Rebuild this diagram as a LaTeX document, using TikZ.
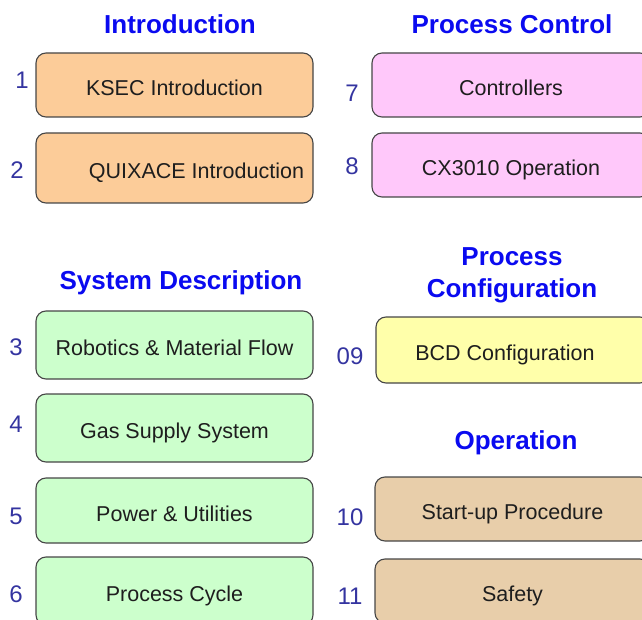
\documentclass[tikz,border=0pt]{standalone}
\usepackage{fontspec}
\setmainfont{Liberation Sans}
\definecolor{headblue}{RGB}{10,10,240}
\definecolor{numblue}{RGB}{52,52,160}
\definecolor{boxline}{RGB}{70,70,70}
\definecolor{boxtext}{RGB}{30,30,30}
\definecolor{introfill}{RGB}{252,204,153}
\definecolor{ctrlfill}{RGB}{255,200,250}
\definecolor{sysfill}{RGB}{204,255,204}
\definecolor{conffill}{RGB}{255,255,170}
\definecolor{operfill}{RGB}{232,206,170}
\tikzset{
    heading/.style={text=headblue, font=\bfseries\fontsize{26}{32}\selectfont, align=center},
    num/.style={text=numblue, font=\fontsize{24}{26}\selectfont},
    topic/.style={draw=boxline, line width=1.1pt, rounded corners=10pt, text=boxtext,
        font=\fontsize{21.5}{24}\selectfont, text height=21pt, text depth=0pt,
        minimum width=277pt, minimum height=64pt}
}
\begin{document}
\begin{tikzpicture}[x=1pt, y=-1pt]
    \useasboundingbox (0,0) rectangle (642,620);
    %% headings
    \node[heading] (hintro) at (180,24) {Introduction};
    \node[heading] (hctrl) at (512,24) {Process Control};
    \node[heading] (hsys) at (181,283) {System Description};
    \node[heading] (hconf) at (512,275) {Process\\Configuration};
    \node[heading] (hoper) at (516,443) {Operation};
    %% introduction
    \node[topic, fill=introfill] (intro1) at (174.5,85) {KSEC Introduction};
    \node[topic, fill=introfill, minimum height=70pt] (intro2) at (174.5,168) {\hspace*{44pt}QUIXACE Introduction};
    %% system description
    \node[topic, fill=sysfill, minimum height=68pt] (sys3) at (174.5,345) {Robotics \& Material Flow};
    \node[topic, fill=sysfill, minimum height=68pt] (sys4) at (174.5,428) {Gas Supply System};
    \node[topic, fill=sysfill, minimum height=65pt] (sys5) at (174.5,510.5) {Power \& Utilities};
    \node[topic, fill=sysfill, minimum height=68pt] (sys6) at (174.5,591) {Process Cycle};
    %% process control
    \node[topic, fill=ctrlfill, minimum width=278pt] (ctrl7) at (511,85) {Controllers};
    \node[topic, fill=ctrlfill, minimum width=278pt] (ctrl8) at (511,165) {CX3010 Operation};
    %% configuration and operation
    \node[topic, fill=conffill, minimum width=274pt, minimum height=66pt] (conf9) at (513,350) {BCD Configuration\hspace*{16pt}};
    \node[topic, fill=operfill, minimum width=275pt] (oper10) at (512.5,509) {Start-up Procedure};
    \node[topic, fill=operfill, minimum width=275pt] (oper11) at (512.5,591) {Safety};
    %% numbers
    \node[num] (n1) at (22,80) {1};
    \node[num] (n2) at (17,170) {2};
    \node[num] (n3) at (16,347) {3};
    \node[num] (n4) at (16,424) {4};
    \node[num] (n5) at (16,516) {5};
    \node[num] (n6) at (16,594) {6};
    \node[num] (n7) at (352,93) {7};
    \node[num] (n8) at (352,166) {8};
    \node[num] (n9) at (350,356) {09};
    \node[num] (n10) at (350,517) {10};
    \node[num] (n11) at (350,596) {11};
\end{tikzpicture}
\end{document}
